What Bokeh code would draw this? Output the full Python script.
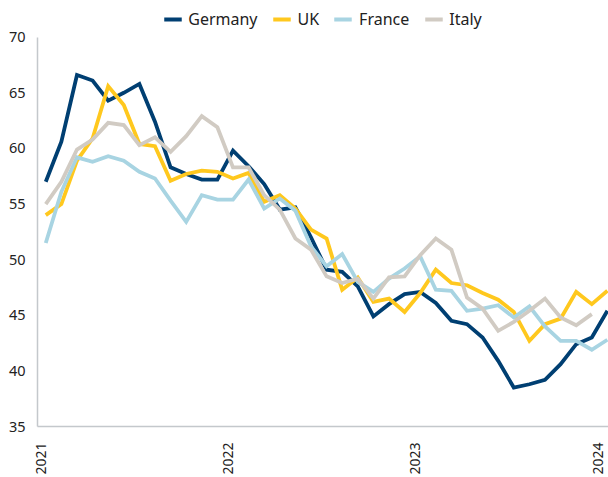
from bokeh.plotting import figure
from bokeh.models import Range1d, FixedTicker, Legend, LegendItem, ColumnDataSource
from bokeh.embed import file_html
from bokeh.resources import INLINE
import math

# Monthly PMI readings, Jan 2021 .. Jan 2024
months = list(range(37))
germany = [57.0, 60.6, 66.6, 66.1, 64.3, 65.0, 65.8, 62.4, 58.3, 57.7, 57.2, 57.2,
           59.8, 58.4, 56.8, 54.5, 54.7, 52.0, 49.1, 48.9, 47.6, 44.9, 46.0, 46.9,
           47.1, 46.1, 44.5, 44.2, 43.0, 40.9, 38.5, 38.8, 39.2, 40.6, 42.4, 43.0, 45.4]
uk = [54.0, 55.0, 58.9, 60.9, 65.6, 63.9, 60.4, 60.2, 57.1, 57.7, 58.0, 57.9,
      57.3, 57.8, 55.2, 55.8, 54.6, 52.7, 51.9, 47.3, 48.4, 46.2, 46.5, 45.3,
      47.0, 49.1, 47.9, 47.7, 47.0, 46.4, 45.3, 42.7, 44.2, 44.7, 47.1, 46.0, 47.2]
france = [51.5, 56.1, 59.2, 58.8, 59.3, 58.9, 57.9, 57.3, 55.3, 53.4, 55.8, 55.4,
          55.4, 57.2, 54.6, 55.5, 54.4, 51.2, 49.4, 50.5, 48.0, 47.1, 48.3, 49.2,
          50.3, 47.3, 47.2, 45.4, 45.6, 45.9, 44.8, 45.8, 44.0, 42.7, 42.7, 41.9, 42.8]
italy = [55.0, 57.0, 59.9, 60.8, 62.3, 62.1, 60.3, 61.0, 59.7, 61.1, 62.9, 61.9,
         58.3, 58.3, 55.8, 54.5, 51.9, 50.9, 48.5, 47.9, 48.3, 46.5, 48.4, 48.5,
         50.4, 51.9, 50.9, 46.6, 45.6, 43.6, 44.4, 45.4, 46.5, 44.8, 44.1, 45.1]

series_names = ["Germany", "UK", "France", "Italy"]
series_values = [germany, uk, france, italy]
colors = ["#003f72", "#ffc81e", "#a8d4e2", "#d1cbc3"]

year_ticks = [-0.3, 11.65, 23.65, 35.4]
year_labels = ["2021", "2022", "2023", "2024"]
y_ticks = [35, 40, 45, 50, 55, 60, 65, 70]

FONT = "Noto Sans"

p = figure(width=608, height=477, output_backend="svg", toolbar_location=None,
           x_range=Range1d(-0.53, 36.07), y_range=Range1d(35, 73.3),
           min_border_left=37, min_border_right=0, min_border_top=0, min_border_bottom=45)
p.outline_line_color = None
p.grid.visible = False
p.background_fill_color = "white"
p.border_fill_color = "white"

items = []
for name, vals, c in zip(series_names, series_values, colors):
    src = ColumnDataSource(dict(x=months[:len(vals)], y=vals))
    r = p.line("x", "y", source=src, line_color=c, line_width=3.8, line_join="miter")
    items.append(LegendItem(label=name, renderers=[r]))

legend = Legend(items=items, orientation="horizontal", location="top_center",
                border_line_color=None, background_fill_alpha=0, padding=0, margin=8,
                spacing=15, glyph_width=18, glyph_height=16, label_height=16,
                label_standoff=7, label_text_font=FONT, label_text_font_size="16px",
                label_text_color="#222222")
p.add_layout(legend, "center")

ya = p.yaxis[0]
ya.ticker = FixedTicker(ticks=y_ticks)
ya.bounds = (35, 70)
ya.axis_line_color = "#c4c8cc"
ya.axis_line_width = 1.5
ya.major_tick_line_color = None
ya.minor_tick_line_color = None
ya.major_label_standoff = 6
ya.major_label_text_font = FONT
ya.major_label_text_font_size = "14.5px"
ya.major_label_text_color = "#222222"

xa = p.xaxis[0]
xa.ticker = FixedTicker(ticks=year_ticks)
xa.major_label_overrides = {t: l for t, l in zip(year_ticks, year_labels)}
xa.major_label_orientation = math.pi / 2
xa.axis_line_color = "#c4c8cc"
xa.axis_line_width = 1.5
xa.major_tick_line_color = None
xa.minor_tick_line_color = None
xa.major_label_standoff = 10
xa.major_label_text_font = FONT
xa.major_label_text_font_size = "14px"
xa.major_label_text_color = "#222222"

open("out.html", "w").write(file_html(p, INLINE))
